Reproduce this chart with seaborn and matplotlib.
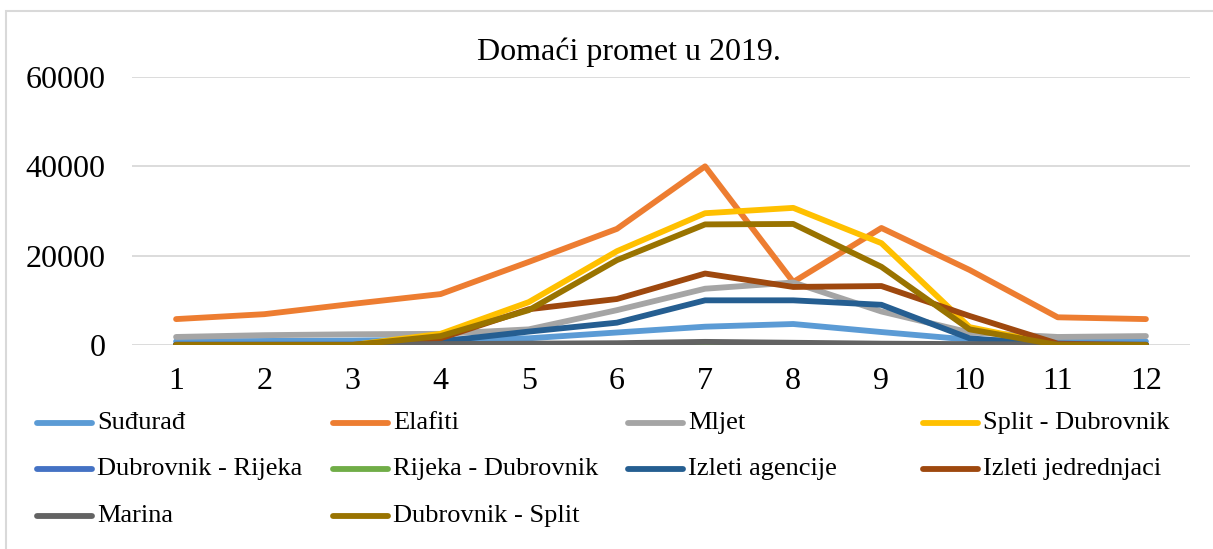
import pandas as pd
import matplotlib.pyplot as plt
import seaborn as sns
from matplotlib.patches import Rectangle
from matplotlib.lines import Line2D

# months
months = list(range(1, 13))

# series values
sudurad = [800, 900, 1000, 1200, 1500, 2800, 4100, 4700, 2900, 1200, 800, 800]
elafiti = [5800, 6900, 9200, 11400, 18600, 26000, 40000, 14100, 26200, 16800, 6200, 5800]
mljet = [1800, 2200, 2400, 2500, 3500, 7800, 12600, 14000, 7500, 2800, 1800, 2000]
split_dubrovnik = [0, 0, 0, 2500, 9600, 21000, 29500, 30700, 22800, 4000, 0, 0]
dubrovnik_rijeka = [0, 0, 0, 0, 0, 0, 0, 0, 0, 0, 0, 0]
rijeka_dubrovnik = [0, 0, 0, 0, 0, 0, 0, 0, 0, 0, 0, 0]
izleti_agencije = [0, 0, 0, 800, 3000, 5000, 10000, 10000, 9000, 1500, 0, 0]
izleti_jedrednjaci = [0, 0, 0, 1500, 8000, 10300, 16000, 13000, 13200, 6500, 300, 0]
marina = [100, 100, 100, 200, 300, 400, 700, 500, 300, 200, 100, 100]
dubrovnik_split = [0, 0, 0, 2000, 7800, 19000, 27000, 27100, 17500, 3500, 0, 0]

names = ["Suđurađ", "Elafiti", "Mljet", "Split - Dubrovnik", "Dubrovnik - Rijeka",
         "Rijeka - Dubrovnik", "Izleti agencije", "Izleti jedrednjaci", "Marina",
         "Dubrovnik - Split"]
values = [sudurad, elafiti, mljet, split_dubrovnik, dubrovnik_rijeka,
          rijeka_dubrovnik, izleti_agencije, izleti_jedrednjaci, marina, dubrovnik_split]
colors = ["#5B9BD5", "#ED7D31", "#A5A5A5", "#FFC000", "#4472C4",
          "#70AD47", "#255E91", "#9E480E", "#636363", "#997300"]

rows = []
for n, vals in zip(names, values):
    for m, v in zip(months, vals):
        rows.append({"month": m, "series": n, "value": v})
df = pd.DataFrame(rows)

sns.set_style("white")
plt.rcParams['font.family'] = ['Liberation Serif', 'DejaVu Serif']
plt.rcParams['text.color'] = 'black'

fig = plt.figure(figsize=(12.13, 5.49), dpi=100)
ax = fig.add_axes([132/1213, 1-345/549, (1190-132)/1213, (345-77)/549])

lw = 4.2
sns.lineplot(data=df, x="month", y="value", hue="series", hue_order=names,
             palette=dict(zip(names, colors)), linewidth=lw, ax=ax,
             legend=False, solid_capstyle='round')

ax.set_xlim(0.5, 12.5)
ax.set_ylim(0, 60000)
ax.set_xticks(months)
ax.set_yticks([0, 20000, 40000, 60000])
ax.tick_params(axis='both', length=0, labelsize=23, colors='black')
ax.tick_params(axis='x', pad=16)
ax.tick_params(axis='y', pad=19)
ax.grid(axis='y', color='#D9D9D9', linewidth=1.3)
ax.set_axisbelow(True)
for s in ax.spines.values():
    s.set_visible(False)
ax.set_xlabel("")
ax.set_ylabel("")

# title centred over the chart area
fig.text(629/1213, 1-52/549, "Domaći promet u 2019.", fontsize=23, ha='center',
         va='center', color='black')

# chart border
fig.patches.append(Rectangle((6/1213, -0.1), 1.2, 1-11/549+0.1, transform=fig.transFigure,
                             fill=False, edgecolor='#D9D9D9', linewidth=1.5))

# legend in four evenly spaced columns, row-major order
cols_x = [37, 333, 628, 923]
rows_y = [423, 469, 516]
for i, (n, c) in enumerate(zip(names, colors)):
    r, col = divmod(i, 4)
    x0 = cols_x[col] / 1213
    y0 = 1 - rows_y[r] / 549
    fig.lines.append(Line2D([x0, x0 + 55/1213], [y0, y0], transform=fig.transFigure,
                            color=c, linewidth=lw, solid_capstyle='round'))
    fig.text(x0 + 60/1213, y0, n, fontsize=19, va='center', ha='left', color='black')

plt.savefig("out.png", dpi=100)
